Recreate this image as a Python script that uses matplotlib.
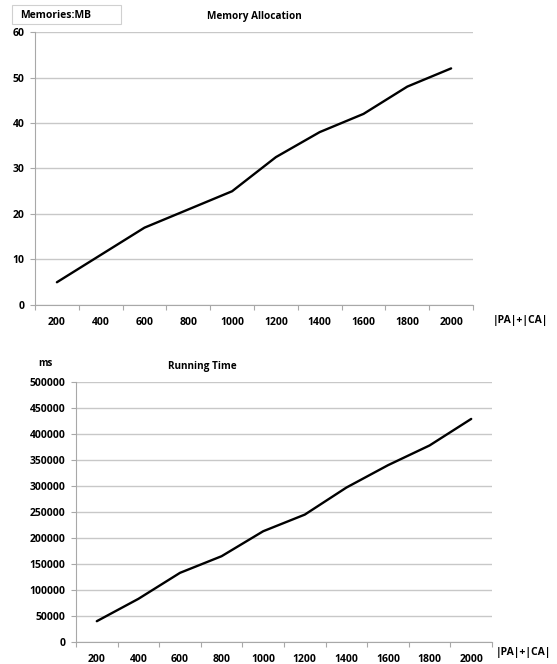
import matplotlib.pyplot as plt
from matplotlib.patches import Rectangle
from matplotlib.ticker import FixedLocator, NullFormatter

plt.rcParams['font.family'] = ['Open Sans', 'DejaVu Sans']
plt.rcParams['font.weight'] = 'bold'

sizes = ['200', '400', '600', '800', '1000', '1200', '1400', '1600', '1800', '2000']
memory_mb = [5, 11, 17, 21, 25, 32.5, 38, 42, 48, 52]
running_ms = [40000, 83000, 133000, 165000, 213000, 245000, 297000, 340000, 378000, 429000]

W, H = 557, 664
fig = plt.figure(figsize=(W / 100, H / 100), dpi=100)

GRID = '#c8c8c8'
SPINE = '#a8a8a8'


def px(x0, y0, x1, y1):
    # pixel box -> figure fraction [left, bottom, width, height]
    return [x0 / W, 1 - y1 / H, (x1 - x0) / W, (y1 - y0) / H]


def style(ax, values, ymax, ystep):
    xs = range(len(values))
    ax.plot(xs, values, color='black', lw=1.7, solid_capstyle='round', zorder=3)
    ax.set_xlim(-0.5, len(values) - 0.5)
    ax.set_ylim(0, ymax)
    ax.set_yticks(range(0, ymax + 1, ystep))
    ax.yaxis.grid(True, color=GRID, lw=1)
    ax.set_axisbelow(True)
    ax.xaxis.set_major_locator(FixedLocator([i - 0.5 for i in range(len(values) + 1)]))
    ax.xaxis.set_major_formatter(NullFormatter())
    ax.xaxis.set_minor_locator(FixedLocator(list(xs)))
    ax.set_xticklabels(sizes, minor=True)
    ax.tick_params(axis='x', which='major', length=3.5, color=SPINE, direction='out')
    ax.tick_params(axis='x', which='minor', length=0, pad=9, labelsize=7.5)
    ax.tick_params(axis='y', length=3.5, color=SPINE, pad=4, labelsize=7.5)
    for s in ('top', 'right'):
        ax.spines[s].set_visible(False)
    for s in ('left', 'bottom'):
        ax.spines[s].set_color(SPINE)


ax1 = fig.add_axes(px(35, 32, 473, 305))
style(ax1, memory_mb, 60, 10)

ax2 = fig.add_axes(px(76, 382, 492, 642))
style(ax2, running_ms, 500000, 50000)

# label box in the top-left corner
b = px(12, 5, 121, 24)
fig.patches.append(Rectangle((b[0], b[1]), b[2], b[3], transform=fig.transFigure,
                             fc='white', ec='#d0d0d0', lw=0.8))
fig.text(20 / W, 1 - 15 / H, 'Memories:MB', fontsize=7.5, va='center', ha='left')
fig.text(254 / W, 1 - 17 / H, 'Memory Allocation', fontsize=7.2, ha='center', va='center')
fig.text(520 / W, 1 - 321 / H, '|PA|+|CA|', fontsize=7.5, ha='center', va='center')

fig.text(45 / W, 1 - 363 / H, 'ms', fontsize=7, ha='center', va='center')
fig.text(202 / W, 1 - 367 / H, 'Running Time', fontsize=7.2, ha='center', va='center')
fig.text(523 / W, 1 - 653 / H, '|PA|+|CA|', fontsize=7.5, ha='center', va='center')

fig.savefig('out.png', dpi=100, facecolor='white')
